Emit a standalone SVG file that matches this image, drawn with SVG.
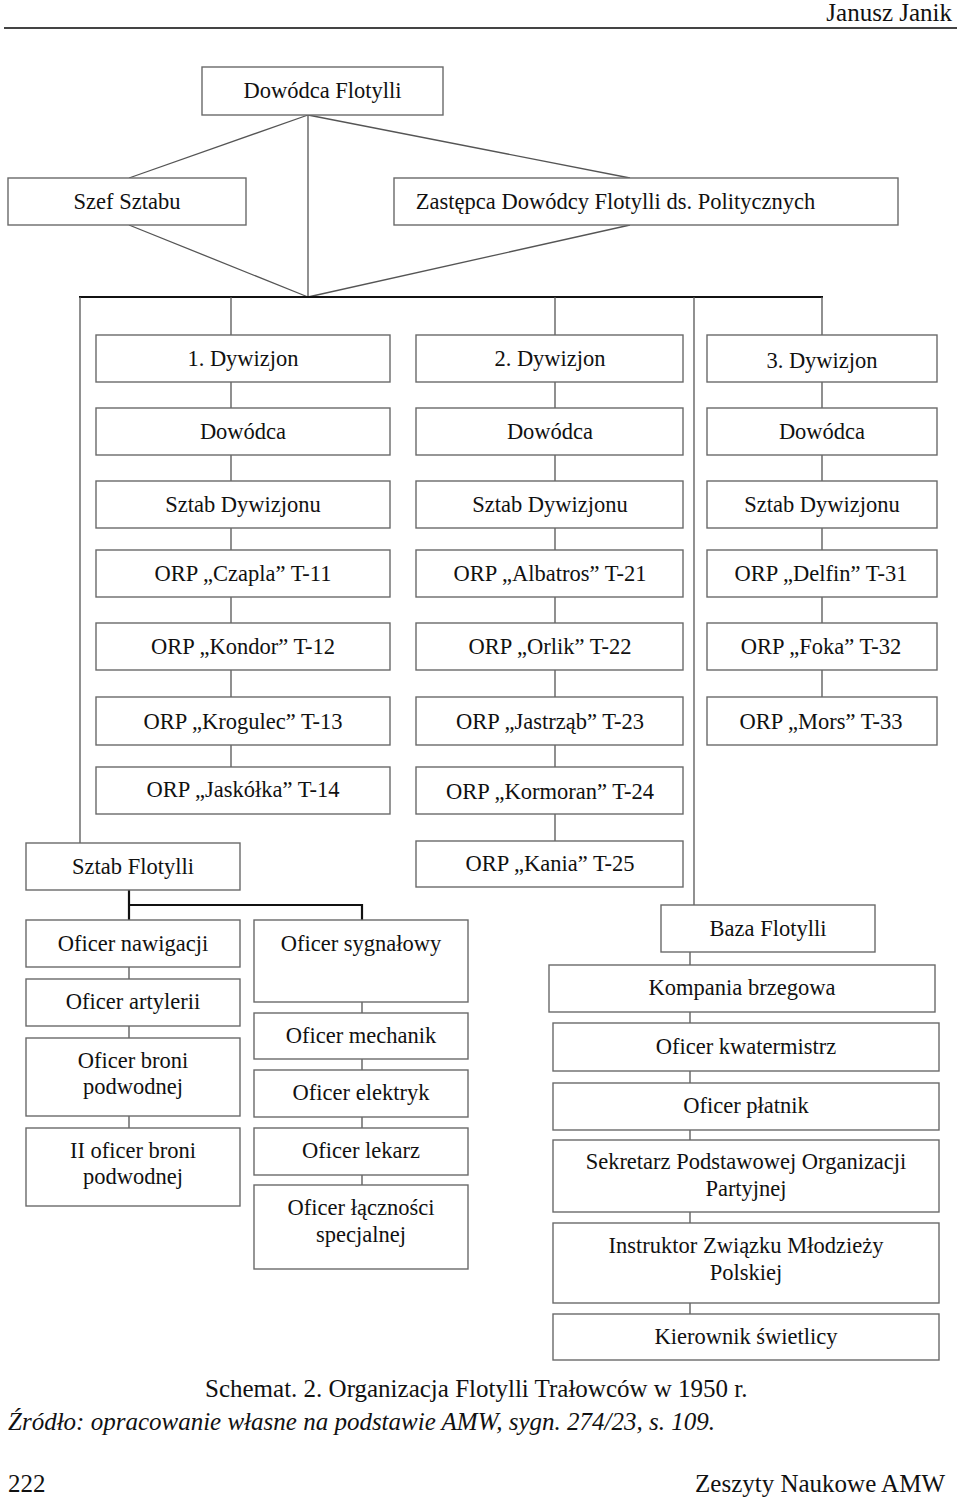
<svg xmlns="http://www.w3.org/2000/svg" width="960" height="1498" viewBox="0 0 960 1498">
<style>
.box{fill:#fff;stroke:#6a6a6a;stroke-width:1.4}
.t{font-family:"Liberation Serif","Times New Roman",serif;font-size:22.5px;fill:#111;text-anchor:middle}
.p{font-family:"Liberation Serif","Times New Roman",serif;font-size:25px;fill:#111}
.ln{stroke:#555;stroke-width:1.3;fill:none}
.bk{stroke:#111;stroke-width:2.2;fill:none}
</style>
<rect width="960" height="1498" fill="#fff"/>
<g id="page">
<text class="p" x="952" y="21" text-anchor="end">Janusz Janik</text>
<line x1="4" y1="28" x2="957" y2="28" stroke="#444" stroke-width="2"/>
<text class="p" x="205" y="1397">Schemat. 2. Organizacja Flotylli Trałowców w 1950 r.</text>
<text class="p" x="8" y="1430" font-style="italic">Źródło: opracowanie własne na podstawie AMW, sygn. 274/23, s. 109.</text>
<text class="p" x="8" y="1492">222</text>
<text class="p" x="945" y="1492" text-anchor="end">Zeszyty Naukowe AMW</text>
</g>
<g id="connectors">
<line class="ln" x1="308" y1="115" x2="129" y2="178"/>
<line class="ln" x1="308" y1="115" x2="630" y2="178"/>
<line class="ln" x1="308" y1="115" x2="308" y2="297"/>
<line class="ln" x1="129" y1="225" x2="308" y2="297"/>
<line class="ln" x1="630" y1="225" x2="308" y2="297"/>
<line class="bk" x1="79" y1="297" x2="823" y2="297"/>
<line class="ln" x1="80" y1="297" x2="80" y2="843"/>
<line class="ln" x1="231" y1="297" x2="231" y2="335"/>
<line class="ln" x1="555" y1="297" x2="555" y2="335"/>
<line class="ln" x1="694" y1="297" x2="694" y2="905"/>
<line class="ln" x1="822" y1="297" x2="822" y2="335"/>
<path class="ln" d="M231 382V408M231 455V481M231 528V550M231 597V623M231 670V697M231 745V767"/>
<path class="ln" d="M555 382V408M555 455V481M555 528V550M555 597V623M555 670V697M555 745V767M555 814V841"/>
<path class="ln" d="M822 382V408M822 455V481M822 528V550M822 597V623M822 670V697"/>
<path class="bk" d="M129 890V920M129 905H362V920"/>
<path class="ln" d="M129 967V979M129 1026V1038M129 1116V1128"/>
<path class="ln" d="M362 1002V1013M362 1059V1070M362 1117V1128M362 1175V1185"/>
<path class="ln" d="M690 952V965M690 1012V1023M690 1071V1083M690 1130V1140M690 1212V1223M690 1303V1314"/>
</g>
<g id="n-dowodca"><rect class="box" x="202" y="67" width="241" height="48"/><text class="t" x="322.5" y="98">Dowódca Flotylli</text></g>
<g id="n-szef"><rect class="box" x="8" y="178" width="238" height="47"/><text class="t" x="127" y="209">Szef Sztabu</text></g>
<g id="n-zastepca"><rect class="box" x="394" y="178" width="504" height="47"/><text class="t" x="615.5" y="209">Zastępca Dowódcy Flotylli ds. Politycznych</text></g>

<g id="n-d1"><rect class="box" x="96" y="335" width="294" height="47"/><text class="t" x="243" y="366">1. Dywizjon</text></g>
<g id="n-d1-dow"><rect class="box" x="96" y="408" width="294" height="47"/><text class="t" x="243" y="439">Dowódca</text></g>
<g id="n-d1-sztab"><rect class="box" x="96" y="481" width="294" height="47"/><text class="t" x="243" y="512">Sztab Dywizjonu</text></g>
<g id="n-t11"><rect class="box" x="96" y="550" width="294" height="47"/><text class="t" x="243" y="581">ORP „Czapla” T-11</text></g>
<g id="n-t12"><rect class="box" x="96" y="623" width="294" height="47"/><text class="t" x="243" y="654">ORP „Kondor” T-12</text></g>
<g id="n-t13"><rect class="box" x="96" y="697" width="294" height="48"/><text class="t" x="243" y="729">ORP „Krogulec” T-13</text></g>
<g id="n-t14"><rect class="box" x="96" y="767" width="294" height="47"/><text class="t" x="243" y="797">ORP „Jaskółka” T-14</text></g>

<g id="n-d2"><rect class="box" x="416" y="335" width="267" height="47"/><text class="t" x="550" y="366">2. Dywizjon</text></g>
<g id="n-d2-dow"><rect class="box" x="416" y="408" width="267" height="47"/><text class="t" x="550" y="439">Dowódca</text></g>
<g id="n-d2-sztab"><rect class="box" x="416" y="481" width="267" height="47"/><text class="t" x="550" y="512">Sztab Dywizjonu</text></g>
<g id="n-t21"><rect class="box" x="416" y="550" width="267" height="47"/><text class="t" x="550" y="581">ORP „Albatros” T-21</text></g>
<g id="n-t22"><rect class="box" x="416" y="623" width="267" height="47"/><text class="t" x="550" y="654">ORP „Orlik” T-22</text></g>
<g id="n-t23"><rect class="box" x="416" y="697" width="267" height="48"/><text class="t" x="550" y="729">ORP „Jastrząb” T-23</text></g>
<g id="n-t24"><rect class="box" x="416" y="767" width="267" height="47"/><text class="t" x="550" y="799">ORP „Kormoran” T-24</text></g>
<g id="n-t25"><rect class="box" x="416" y="841" width="267" height="46"/><text class="t" x="550" y="871">ORP „Kania” T-25</text></g>

<g id="n-d3"><rect class="box" x="707" y="335" width="230" height="47"/><text class="t" x="822" y="368">3. Dywizjon</text></g>
<g id="n-d3-dow"><rect class="box" x="707" y="408" width="230" height="47"/><text class="t" x="822" y="439">Dowódca</text></g>
<g id="n-d3-sztab"><rect class="box" x="707" y="481" width="230" height="47"/><text class="t" x="822" y="512">Sztab Dywizjonu</text></g>
<g id="n-t31"><rect class="box" x="707" y="550" width="230" height="47"/><text class="t" x="821" y="581">ORP „Delfin” T-31</text></g>
<g id="n-t32"><rect class="box" x="707" y="623" width="230" height="47"/><text class="t" x="821" y="654">ORP „Foka” T-32</text></g>
<g id="n-t33"><rect class="box" x="707" y="697" width="230" height="48"/><text class="t" x="821" y="729">ORP „Mors” T-33</text></g>

<g id="n-sztabflot"><rect class="box" x="26" y="843" width="214" height="47"/><text class="t" x="133" y="874">Sztab Flotylli</text></g>
<g id="n-nawig"><rect class="box" x="26" y="920" width="214" height="47"/><text class="t" x="133" y="951">Oficer nawigacji</text></g>
<g id="n-artyl"><rect class="box" x="26" y="979" width="214" height="47"/><text class="t" x="133" y="1009">Oficer artylerii</text></g>
<g id="n-broni"><rect class="box" x="26" y="1038" width="214" height="78"/><text class="t" x="133" y="1068">Oficer broni</text><text class="t" x="133" y="1094">podwodnej</text></g>
<g id="n-broni2"><rect class="box" x="26" y="1128" width="214" height="78"/><text class="t" x="133" y="1158">II oficer broni</text><text class="t" x="133" y="1184">podwodnej</text></g>

<g id="n-sygn"><rect class="box" x="254" y="920" width="214" height="82"/><text class="t" x="361" y="951">Oficer sygnałowy</text></g>
<g id="n-mech"><rect class="box" x="254" y="1013" width="214" height="46"/><text class="t" x="361" y="1043">Oficer mechanik</text></g>
<g id="n-elek"><rect class="box" x="254" y="1070" width="214" height="47"/><text class="t" x="361" y="1100">Oficer elektryk</text></g>
<g id="n-lek"><rect class="box" x="254" y="1128" width="214" height="47"/><text class="t" x="361" y="1158">Oficer lekarz</text></g>
<g id="n-lacz"><rect class="box" x="254" y="1185" width="214" height="84"/><text class="t" x="361" y="1215">Oficer łączności</text><text class="t" x="361" y="1242">specjalnej</text></g>

<g id="n-baza"><rect class="box" x="661" y="905" width="214" height="47"/><text class="t" x="768" y="936">Baza Flotylli</text></g>
<g id="n-kompania"><rect class="box" x="549" y="965" width="386" height="47"/><text class="t" x="742" y="995">Kompania brzegowa</text></g>
<g id="n-kwater"><rect class="box" x="553" y="1023" width="386" height="48"/><text class="t" x="746" y="1054">Oficer kwatermistrz</text></g>
<g id="n-platnik"><rect class="box" x="553" y="1083" width="386" height="47"/><text class="t" x="746" y="1113">Oficer płatnik</text></g>
<g id="n-sekretarz"><rect class="box" x="553" y="1140" width="386" height="72"/><text class="t" x="746" y="1169">Sekretarz Podstawowej Organizacji</text><text class="t" x="746" y="1196">Partyjnej</text></g>
<g id="n-instruktor"><rect class="box" x="553" y="1223" width="386" height="80"/><text class="t" x="746" y="1253">Instruktor Związku Młodzieży</text><text class="t" x="746" y="1280">Polskiej</text></g>
<g id="n-kierownik"><rect class="box" x="553" y="1314" width="386" height="46"/><text class="t" x="746" y="1344">Kierownik świetlicy</text></g>
</svg>
